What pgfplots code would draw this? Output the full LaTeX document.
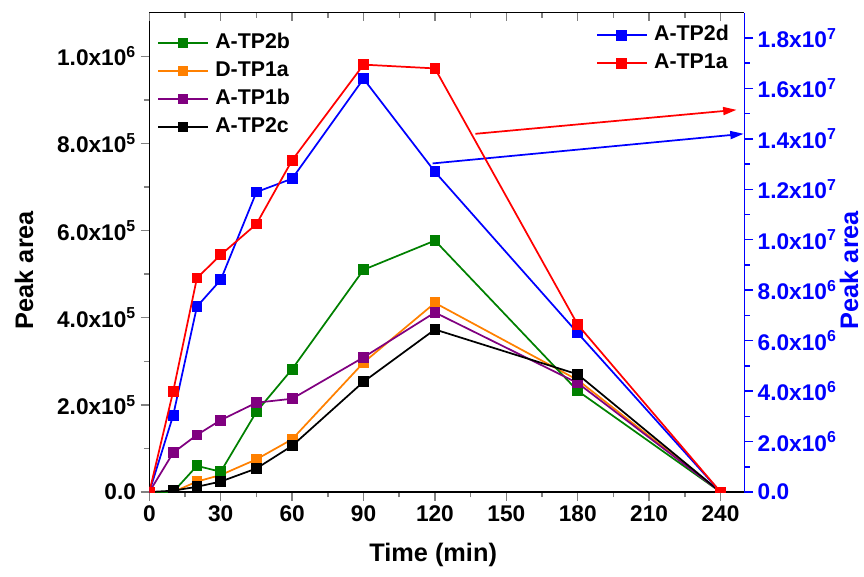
\documentclass[border=0pt]{standalone}
\usepackage{fontspec}
\setmainfont{Liberation Sans}
\usepackage{pgfplots}
\pgfplotsset{compat=1.18}
\usetikzlibrary{arrows.meta}

\definecolor{cgreen}{RGB}{0,128,0}
\definecolor{corange}{RGB}{255,128,0}
\definecolor{cpurple}{RGB}{128,0,128}
\definecolor{cblue}{RGB}{0,0,255}
\definecolor{cred}{RGB}{255,0,0}

\pgfplotsset{
  common/.style={scale only axis, width=446.25pt, height=359.5pt, xmin=0, xmax=250,
    at={(0,0)}, anchor=south west, clip marker paths=true,
    axis line style={line width=1.1pt}, tick style={line width=1.1pt},
    major tick length=6.5pt, minor tick length=4pt,
    ticklabel style={font=\bfseries\fontsize{17}{17}\selectfont},
    label style={font=\bfseries\fontsize{19}{19}\selectfont},
    legend style={draw=none, fill=none, inner sep=0pt, outer sep=0pt,
      font=\bfseries\fontsize{16}{16}\selectfont,
      nodes={text height=11.5pt, text depth=3pt, inner sep=0pt},
      row sep=6.5pt, column sep=5pt},
    legend cell align=left,
    legend image code/.code={\draw[mark repeat=2,mark phase=2,##1] plot coordinates {(0pt,0pt) (18.6pt,0pt) (37.2pt,0pt)};},
  },
  ser/.style={color=#1, line width=1.3pt, mark=square*, mark size=3.4pt, mark options={solid, fill=#1}},
}

\begin{document}
\begin{tikzpicture}
\useasboundingbox (-112pt,-63pt) rectangle (536pt,369pt);
% main (left) axis
\begin{axis}[common,
  axis x line*=bottom, axis y line*=left, tick align=outside,
  ymin=0, ymax=1.1e6,
  xtick={0,30,60,90,120,150,180,210,240},
  xticklabels={0,30,60,90,120,150,180,210,240},
  minor x tick num=1,
  ytick={0,200000,400000,600000,800000,1000000},
  yticklabels={0.0,2.0x10\textsuperscript{5},4.0x10\textsuperscript{5},6.0x10\textsuperscript{5},8.0x10\textsuperscript{5},1.0x10\textsuperscript{6}},
  minor y tick num=1, scaled y ticks=false,
  xlabel={Time (min)}, ylabel={Peak area},
  xlabel style={at={(axis description cs:0.477,-0.131)}, anchor=center},
  ylabel style={at={(axis description cs:-0.2106,0.463)}, anchor=center},
  legend style={at={(axis description cs:0.0134,0.957)}, anchor=north west},
]
\addlegendimage{ser=cgreen}\addlegendentry{A-TP2b}
\addlegendimage{ser=corange}\addlegendentry{D-TP1a}
\addlegendimage{ser=cpurple}\addlegendentry{A-TP1b}
\addlegendimage{ser=black}\addlegendentry{A-TP2c}
\addplot[ser=corange, forget plot] coordinates {(0,0) (10,0) (20,24000) (30,39000) (45,75000) (60,121000) (90,297000) (120,434000) (180,257000) (240,0)};
\addplot[ser=cgreen, forget plot] coordinates {(0,0) (10,0) (20,60000) (30,46500) (45,184000) (60,282000) (90,510000) (120,577000) (180,232000) (240,0)};
\addplot[ser=cpurple, forget plot] coordinates {(0,0) (10,90000) (20,131000) (30,165000) (45,205000) (60,214000) (90,309000) (120,412000) (180,250000) (240,0)};
\addplot[ser=black, forget plot] coordinates {(0,0) (10,3000) (20,12000) (30,24000) (45,54000) (60,106000) (90,253000) (120,373000) (180,270000) (240,0)};
\draw[cred, line width=1.3pt, -{Triangle[length=10pt,width=6pt]}] (axis cs:137,822000) -- (axis cs:246.7,877000);
\draw[cblue, line width=1.3pt, -{Triangle[length=10pt,width=6pt]}] (axis cs:119,754000) -- (axis cs:249.7,822000);
\end{axis}
% right axis
\begin{axis}[common,
  axis x line=none, axis y line*=right, tick align=outside,
  ymin=0, ymax=1.9e7,
  ytick={0,2000000,4000000,6000000,8000000,10000000,12000000,14000000,16000000,18000000},
  yticklabels={0.0,2.0x10\textsuperscript{6},4.0x10\textsuperscript{6},6.0x10\textsuperscript{6},8.0x10\textsuperscript{6},1.0x10\textsuperscript{7},1.2x10\textsuperscript{7},1.4x10\textsuperscript{7},1.6x10\textsuperscript{7},1.8x10\textsuperscript{7}},
  minor y tick num=1, scaled y ticks=false,
  y axis line style={cblue}, y tick style={cblue}, minor y tick style={cblue},
  yticklabel style={text=cblue},
  ylabel={Peak area}, ylabel style={text=cblue, at={(axis description cs:1.176,0.463)}, anchor=center, rotate=0},
  legend style={at={(axis description cs:0.751,0.973)}, anchor=north west},
]
\addplot[ser=cblue] coordinates {(0,0) (10,3030000) (20,7350000) (30,8410000) (45,11890000) (60,12420000) (90,16380000) (120,12690000) (180,6300000) (240,0)};
\addlegendentry{A-TP2d}
\addplot[ser=cred] coordinates {(0,0) (10,3980000) (20,8480000) (30,9400000) (45,10620000) (60,13150000) (90,16940000) (120,16790000) (180,6630000) (240,0)};
\addlegendentry{A-TP1a}
\end{axis}
% top axis ticks
\begin{axis}[common,
  axis x line*=top, axis y line=none, tick align=inside,
  ymin=0, ymax=1,
  xtick={0,30,60,90,120,150,180,210,240}, xticklabels={},
  minor x tick num=1,
]
\end{axis}
\end{tikzpicture}
\end{document}
